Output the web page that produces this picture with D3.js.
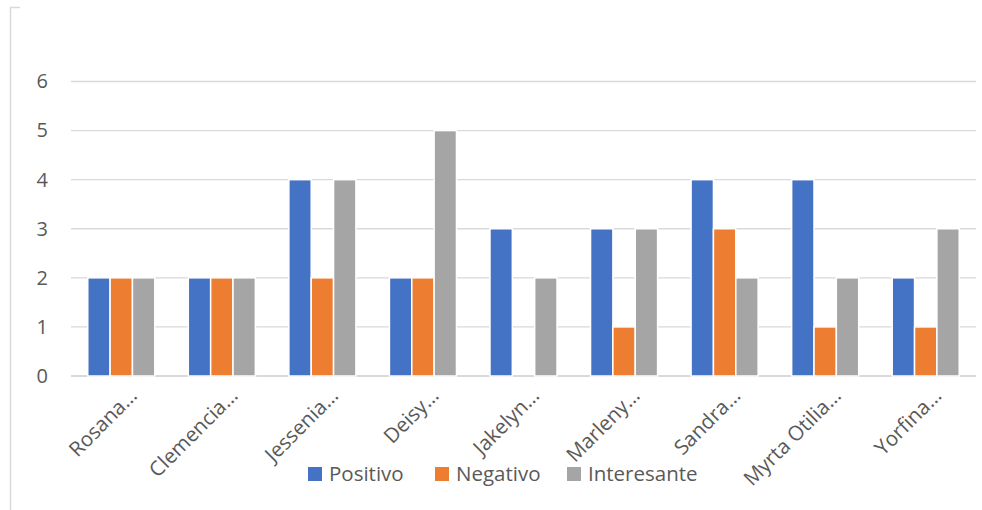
<!DOCTYPE html>
<html>
<head>
<meta charset="utf-8">
<script src="https://cdn.jsdelivr.net/npm/d3@7"></script>
<style>
  body { margin: 0; background: #fff; }
  text { font-family: "Open Sans", "Noto Sans", sans-serif; fill: #595959; }
</style>
</head>
<body>
<svg id="chart" width="982" height="510"></svg>
<script>
// datos
var categories = ["Rosana…", "Clemencia…", "Jessenia…", "Deisy…", "Jakelyn…", "Marleny…", "Sandra…", "Myrta Otilia…", "Yorfina…"]
var seriesNames = ["Positivo", "Negativo", "Interesante"]
var positivo = [2, 2, 4, 2, 3, 3, 4, 4, 2]
var negativo = [2, 2, 2, 2, 0, 1, 3, 1, 1]
var interesante = [2, 2, 4, 5, 2, 3, 2, 2, 3]
var yTicks = [0, 1, 2, 3, 4, 5, 6]
var colors = ["#4472c4", "#ed7d31", "#a5a5a5"]

var svg = d3.select("#chart")

var plotLeft = 71, plotRight = 976, plotTop = 81.5, plotBottom = 376

// marco del grafico (recortado)
svg.append("path")
  .attr("d", "M20,7.5H10.5V510")
  .attr("fill", "none")
  .attr("stroke", "#d9d9d9")
  .attr("stroke-width", 1.5)

var x = d3.scaleBand().domain(categories).range([plotLeft, plotRight]).paddingInner(0).paddingOuter(0)
var y = d3.scaleLinear().domain([0, 6]).range([plotBottom, plotTop])

// gap width 150% like excel
var barStep = x.bandwidth() / (3 + 1.5)
var x1 = d3.scaleBand().domain(seriesNames)
  .range([barStep * 0.75, barStep * 3.75])

var g = svg.append("g")

// lineas de cuadricula
g.selectAll(".grid")
  .data(yTicks)
  .enter().append("line")
  .attr("x1", plotLeft).attr("x2", plotRight)
  .attr("y1", function(d) { return y(d) })
  .attr("y2", function(d) { return y(d) })
  .attr("stroke", "#d9d9d9")
  .attr("stroke-width", function(d) { return d === 0 ? 2 : 1.3 })

// etiquetas eje y
var yAxis = d3.axisLeft(y).tickValues(yTicks).tickFormat(d3.format("d")).tickSize(0).tickPadding(0)
svg.append("g")
  .attr("transform", "translate(48,0)")
  .call(yAxis)
  .call(function(a) { a.select(".domain").remove() })
  .selectAll("text")
  .attr("font-size", 20)
  .attr("text-anchor", "end")
  .attr("font-family", null)
  .attr("fill", "#595959")

var data = categories.map(function(c, i) {
  return { cat: c, vals: [positivo[i], negativo[i], interesante[i]] }
})

var groups = g.selectAll(".grp")
  .data(data)
  .enter().append("g")
  .attr("transform", function(d) { return "translate(" + x(d.cat) + ",0)" })

groups.selectAll("rect")
  .data(function(d) { return d.vals.map(function(v, j) { return { name: seriesNames[j], v: v, j: j } }) })
  .enter().append("rect")
  .filter(function(d) { return d.v > 0 })
  .attr("x", function(d) { return x1(d.name) })
  .attr("width", x1.bandwidth())
  .attr("y", function(d) { return y(d.v) })
  .attr("height", function(d) { return y(0) - y(d.v) })
  .attr("fill", function(d) { return colors[d.j] })
  .attr("stroke", "#fff")
  .attr("stroke-width", 1.5)

// etiquetas eje x rotadas
svg.selectAll(".xlab")
  .data(categories)
  .enter().append("text")
  .attr("class", "xlab")
  .attr("font-size", 20.5)
  .attr("text-anchor", "end")
  .attr("transform", function(d) {
    return "translate(" + (x(d) + x.bandwidth() / 2 + 12) + "," + 392 + ") rotate(-45)"
  })
  .attr("dy", "0.35em")
  .text(function(d) { return d })

// leyenda
var legendX = [308, 435, 567]
var legend = svg.selectAll(".leg")
  .data(seriesNames)
  .enter().append("g")
  .attr("transform", function(d, i) { return "translate(" + legendX[i] + ",467)" })

legend.append("rect")
  .attr("width", 14).attr("height", 14)
  .attr("fill", function(d, i) { return colors[i] })

legend.append("text")
  .attr("x", 21).attr("y", 7)
  .attr("dy", "0.35em")
  .attr("font-size", 20.5)
  .text(function(d) { return d })
</script>
</body>
</html>
